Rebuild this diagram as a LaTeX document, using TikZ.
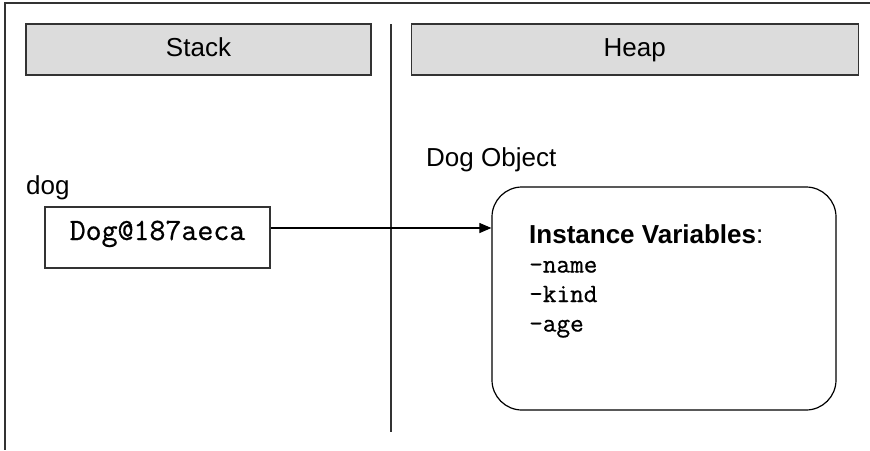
\documentclass[tikz,border=0pt]{standalone}
\usepackage{fontspec}
\setmainfont{Liberation Sans}
\setmonofont{Latin Modern Mono}[FakeBold=0.7]
\usepackage{xcolor}
\usepackage{tikz}
\usetikzlibrary{arrows.meta,positioning,calc}
\definecolor{headgray}{HTML}{DCDCDC}
\definecolor{linegray}{HTML}{333333}

\begin{document}
\begin{tikzpicture}[x=1pt,y=-1pt,>={Triangle[length=12pt,width=10pt]},node distance=39pt]
  \tikzstyle{headbox}=[draw=linegray,line width=1.2pt,fill=headgray,minimum height=51pt,text height=19pt,text depth=5pt,font=\fontsize{26}{30}\selectfont]
  \tikzstyle{refbox}=[draw=linegray,line width=1.2pt,minimum width=225pt,minimum height=61pt,text height=16pt,text depth=11pt,font=\fontsize{31}{34}\selectfont\ttfamily]
  \tikzstyle{objbox}=[draw=black,line width=1.2pt,rounded corners=30pt,minimum width=344pt,minimum height=223pt]
  \tikzstyle{plain}=[inner sep=0pt,font=\fontsize{26}{30}\selectfont]
  \useasboundingbox (0,0) rectangle (870,450);
  % frame and divider
  \coordinate (frameTR) at (870,3);
  \coordinate (frameTL) at (5,3);
  \coordinate (frameBL) at (5,450);
  \draw[linegray,line width=1.2pt] (frameTR) -- (frameTL) -- (frameBL);
  \coordinate (divtop) at (391,24);
  \coordinate (divbot) at (391,432);
  \draw[linegray,line width=1.2pt] (divtop) -- (divbot);
  % headings
  \node[headbox,minimum width=345pt] (stack) at (198.5,49.5) {Stack};
  \node[headbox,minimum width=447pt,right=39pt of stack] (heap) {Heap};
  % stack side
  \node[plain,anchor=base west] (doglabel) at (26,194) {dog};
  \node[refbox] (ref) at (157.5,237.5) {Dog@187aeca};
  % heap side
  \node[plain,anchor=base west] (objlabel) at (426,166) {Dog Object};
  \node[objbox] (obj) at (664,298.5) {};
  \node[inner sep=0pt,anchor=north west,align=left,font=\fontsize{26.5}{29.5}\selectfont] (vars) at (529,224)
    {{\fontsize{26}{29.5}\selectfont\bfseries Instance Variables}{\fontsize{26}{29.5}\selectfont:}\\
     \texttt{\textendash name}\\
     \texttt{\textendash kind}\\
     \texttt{\textendash age}};
  \draw[->,line width=1.1pt] ([yshift=9.5pt]ref.east) -- ([yshift=9.5pt]ref.east -| obj.west);
\end{tikzpicture}
\end{document}
